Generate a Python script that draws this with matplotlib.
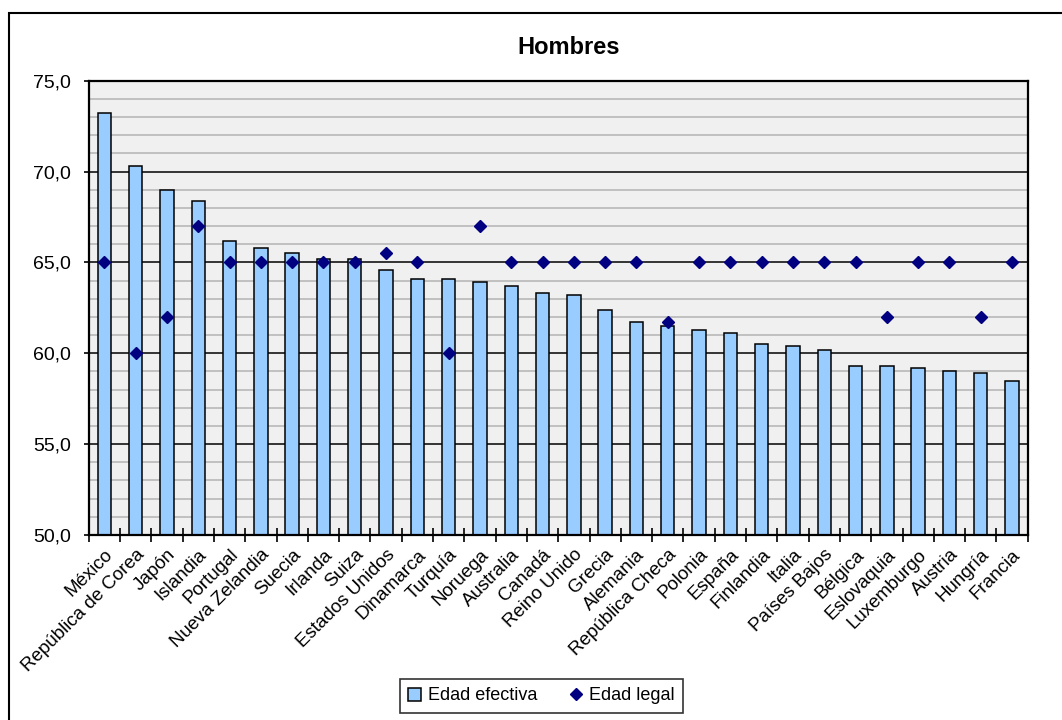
import matplotlib.pyplot as plt
from matplotlib.patches import Rectangle
from matplotlib.ticker import MultipleLocator, FixedLocator
import numpy as np

plt.rcParams['font.family'] = ['Liberation Sans', 'DejaVu Sans']

paises = ['México', 'República de Corea', 'Japón', 'Islandia', 'Portugal',
          'Nueva Zelandia', 'Suecia', 'Irlanda', 'Suiza', 'Estados Unidos',
          'Dinamarca', 'Turquía', 'Noruega', 'Australia', 'Canadá',
          'Reino Unido', 'Grecia', 'Alemania', 'República Checa', 'Polonia',
          'España', 'Finlandia', 'Italia', 'Países Bajos', 'Bélgica',
          'Eslovaquia', 'Luxemburgo', 'Austria', 'Hungría', 'Francia']
edad_efectiva = [73.2, 70.3, 69.0, 68.4, 66.2, 65.8, 65.5, 65.2, 65.2, 64.6,
                 64.1, 64.1, 63.9, 63.7, 63.3, 63.2, 62.4, 61.7, 61.5, 61.3,
                 61.1, 60.5, 60.4, 60.2, 59.3, 59.3, 59.2, 59.0, 58.9, 58.5]
edad_legal = [65, 60, 62, 67, 65, 65, 65, 65, 65, 65.5,
              65, 60, 67, 65, 65, 65, 65, 65, 61.7, 65,
              65, 65, 65, 65, 65, 62, 65, 65, 62, 65]

W, H = 1062, 720
fig = plt.figure(figsize=(W / 100, H / 100), dpi=100)
ax = fig.add_axes([88.7 / W, 1 - 535 / H, (1027.7 - 88.7) / W, (535 - 80.7) / H])
ax.set_facecolor('#f0f0f0')

x = np.arange(len(paises))
barras = ax.bar(x, edad_efectiva, width=0.43, color='#99ccff', edgecolor='black',
                linewidth=1.1, zorder=3, label='Edad efectiva')
puntos, = ax.plot(x, edad_legal, 'D', color='#000080', markersize=6.2, zorder=4,
                  label='Edad legal')

ax.set_xlim(-0.5, len(paises) - 0.5)
ax.set_ylim(50, 75)

# gridlines: grey every unit, black every five
ax.yaxis.set_major_locator(MultipleLocator(5))
ax.yaxis.set_minor_locator(MultipleLocator(1))
ax.grid(axis='y', which='minor', color='#bcbcbc', linewidth=1.3, zorder=1)
ax.grid(axis='y', which='major', color='black', linewidth=1.1, zorder=2)
ax.tick_params(axis='y', which='minor', left=False)
ax.set_yticks(np.arange(50, 76, 5))
ax.set_yticklabels([f'{v:.1f}'.replace('.', ',') for v in np.arange(50, 76, 5)])
ax.tick_params(axis='y', which='major', direction='out', length=3.6, width=1.2,
               labelsize=14, pad=9)

# category boundaries as tick marks, names at the centres
ax.xaxis.set_major_locator(FixedLocator(np.arange(-0.5, len(paises), 1)))
ax.xaxis.set_minor_locator(FixedLocator(x))
ax.tick_params(axis='x', which='major', direction='inout', length=9.5, width=1.2,
               labelbottom=False)
ax.tick_params(axis='x', which='minor', length=0, pad=8)
ax.set_xticklabels(paises, minor=True, rotation=45, ha='right',
                   rotation_mode='anchor', fontsize=13.5)

for s in ax.spines.values():
    s.set_linewidth(1.6)
    s.set_zorder(5)

fig.text(569 / W, 1 - 47 / H, 'Hombres', ha='center', va='center',
         fontsize=17, fontweight='bold')

leg = fig.legend([barras, puntos], ['Edad efectiva', 'Edad legal'],
                 loc='center', bbox_to_anchor=(541.5 / W, 1 - 696 / H),
                 ncol=2, frameon=True, fancybox=False, fontsize=13,
                 handlelength=0.7, handleheight=0.7, handletextpad=0.4,
                 columnspacing=1.8, borderpad=0.45, borderaxespad=0)
leg.get_frame().set_edgecolor('black')
leg.get_frame().set_linewidth(1.2)

fig.add_artist(Rectangle((9 / W, -0.1), 1.2, 1.1 - 13 / H, transform=fig.transFigure,
                         fill=False, edgecolor='black', linewidth=1.5))

plt.savefig('out.png', dpi=100)
